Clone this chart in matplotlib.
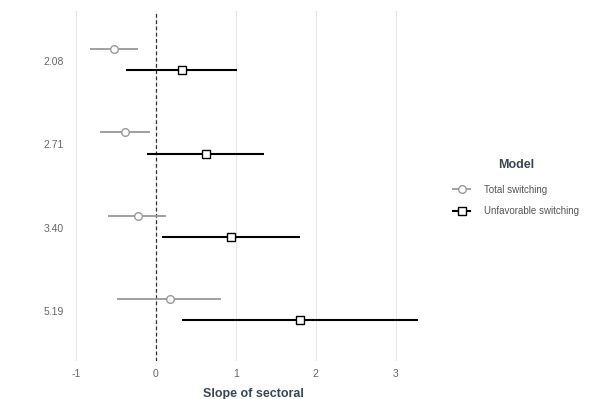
import matplotlib.pyplot as plt
import numpy as np

plt.rcParams['font.family'] = ['Liberation Sans', 'DejaVu Sans']

# Data
groups = ['2.08', '2.71', '3.40', '5.19']
total_est = [-0.52, -0.39, -0.23, 0.17]
total_lo = [-0.83, -0.70, -0.60, -0.49]
total_hi = [-0.23, -0.08, 0.13, 0.82]
unfav_est = [0.32, 0.63, 0.94, 1.80]
unfav_lo = [-0.38, -0.11, 0.08, 0.32]
unfav_hi = [1.01, 1.35, 1.80, 3.28]

fig = plt.figure(figsize=(6.1, 3.99), dpi=100)
ax = fig.add_axes([0.118, 0.095, 0.595, 0.877])

y = np.arange(len(groups))

# Total switching (grey, open circles)
ax.hlines(y - 0.145, total_lo, total_hi, color='#999999', lw=1.3, zorder=3)
ax.plot(total_est, y - 0.145, 'o', ms=5.5, mfc='white', mec='#999999', mew=1.0,
        zorder=4)

# Unfavorable switching (black, open squares)
ax.hlines(y + 0.11, unfav_lo, unfav_hi, color='black', lw=1.5, zorder=3)
ax.plot(unfav_est, y + 0.11, 's', ms=5.5, mfc='white', mec='black', mew=1.0,
        zorder=4)

ax.axvline(0, color='#333333', ls=(0, (3, 2)), lw=0.9, zorder=2)

# legend handles
h1, = ax.plot([], [], '-o', color='#999999', ms=5.5, mfc='white', mec='#999999', lw=1.3)
h2, = ax.plot([], [], '-s', color='black', ms=5.5, mfc='white', mec='black', lw=1.5)
leg = fig.legend([h1, h2], ['Total switching', 'Unfavorable switching'],
                 title='Model', loc='center left', bbox_to_anchor=(0.728, 0.53),
                 frameon=False, fontsize=7, handlelength=1.8, labelspacing=1.15,
                 handletextpad=1.4)
leg.get_title().set_fontweight('bold')
leg.get_title().set_fontsize(9)
leg.get_title().set_color('#3b4655')
for t in leg.get_texts():
    t.set_color('#555555')
leg._legend_box.align = 'center'
leg._legend_box.sep = 10

ax.set_xlim(-1.05, 3.49)
ax.set_ylim(len(groups) - 1 + 0.6, -0.6)
ax.set_xticks([-1, 0, 1, 2, 3])
ax.set_xticklabels(['-1', '0', '1', '2', '3'])
ax.set_yticks(y)
ax.set_yticklabels(groups)
ax.tick_params(length=0, labelsize=7.5, labelcolor='#666666', pad=6)
ax.grid(axis='x', color='#e6e6e6', lw=0.8)
ax.set_axisbelow(True)
for s in ax.spines.values():
    s.set_visible(False)

ax.set_xlabel('Slope of sectoral', fontsize=9, fontweight='bold', color='#3b4655',
              labelpad=6)

fig.savefig('out.png', dpi=100)
